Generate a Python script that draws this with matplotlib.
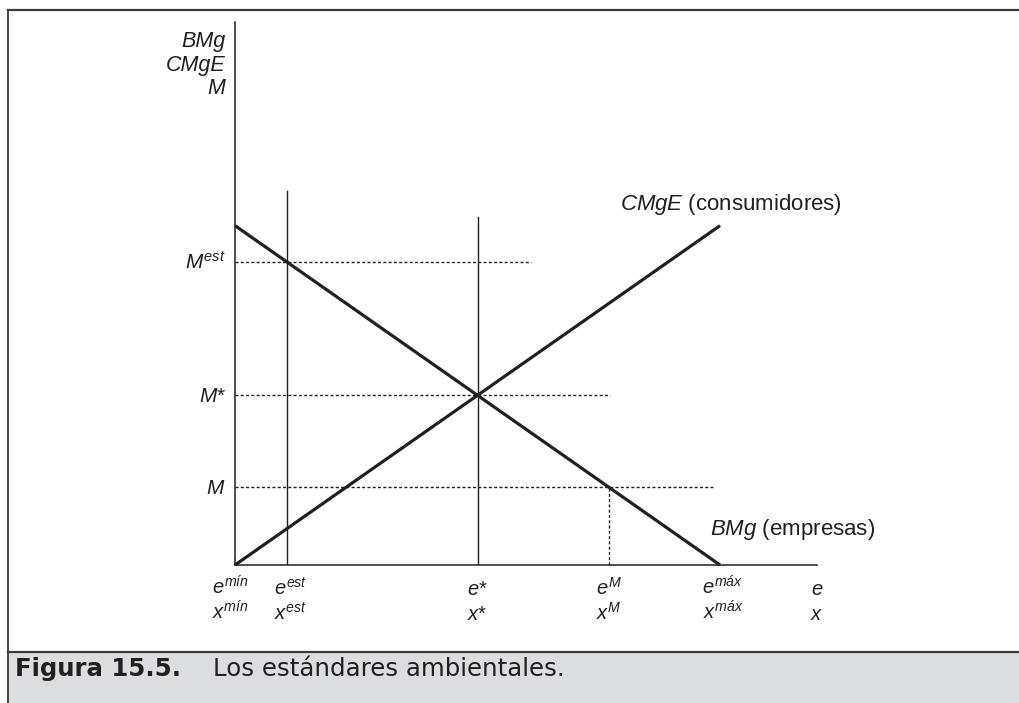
import matplotlib
matplotlib.use("Agg")
import matplotlib.pyplot as plt
from matplotlib.lines import Line2D
from matplotlib.patches import Rectangle
from matplotlib.transforms import offset_copy

plt.rcParams['font.family'] = ['Liberation Sans', 'DejaVu Sans']
plt.rcParams['mathtext.fontset'] = 'custom'
plt.rcParams['mathtext.it'] = 'Liberation Sans:italic'
plt.rcParams['mathtext.rm'] = 'Liberation Sans'
plt.rcParams['mathtext.bf'] = 'Liberation Sans:bold'

INK = '#231f20'

# Emission levels on the horizontal axis
e_min = 0.0
e_est = 1.07
e_star = 5.0
e_M = 7.71
e_max = 10.0
e_end = 12.0

# Marginal benefit of firms (falls) and marginal external cost (rises)
bmg_e = [0.0, 10.0]
bmg_v = [10.0, 0.0]
cmge_e = [0.0, 10.0]
cmge_v = [0.0, 10.0]

# Levels on the vertical axis
M_est = 8.93
M_star = 5.0
M_level = 2.29
y_top = 16.0

x_labels = [r'$e^{mín}$', r'$e^{est}$', r'$e$*', r'$e^{M}$', r'$e^{máx}$', r'$e$']
x_labels2 = [r'$x^{mín}$', r'$x^{est}$', r'$x$*', r'$x^{M}$', r'$x^{máx}$', r'$x$']
x_pos = [e_min, e_est, e_star, e_M, e_max, e_end]
x_nudge = [-5, 4, 0, 0, 3, 0]  # horizontal nudges of the labels, in pixels

W, H = 1019, 703
fig = plt.figure(figsize=(W / 100, H / 100), dpi=100)
fig.patch.set_facecolor('white')

x0, x1 = 235, 817
y0, y1 = 565, 22
ax = fig.add_axes([x0 / W, 1 - y0 / H, (x1 - x0) / W, (y0 - y1) / H])
ax.set_xlim(0, e_end)
ax.set_ylim(0, y_top)
ax.patch.set_alpha(0)
for s in ['top', 'right']:
    ax.spines[s].set_visible(False)
for s in ['left', 'bottom']:
    ax.spines[s].set_linewidth(1.1)
    ax.spines[s].set_color(INK)
ax.set_xticks([])
ax.set_yticks([])

# Demand and supply of the environmental good
ax.plot(bmg_e, bmg_v, color=INK, lw=2.3, solid_capstyle='butt', clip_on=False)
ax.plot(cmge_e, cmge_v, color=INK, lw=2.3, solid_capstyle='butt', clip_on=False)

# Vertical reference lines
ax.plot([e_est, e_est], [0, 11.03], color=INK, lw=1.0)
ax.plot([e_star, e_star], [0, 10.24], color=INK, lw=1.0)

dots = dict(color=INK, lw=1.0, linestyle=(0, (2.2, 1.6)))
ax.plot([0, 6.1], [M_est, M_est], **dots)
ax.plot([0, 7.73], [M_star, M_star], **dots)
ax.plot([0, 9.86], [M_level, M_level], **dots)
ax.plot([e_M, e_M], [0, M_level], **dots)

# Vertical axis titles
for yy, lab in zip([15.26, 14.56, 13.88], ['BMg', 'CMgE', 'M']):
    ax.text(-0.2, yy, lab, fontsize=15.5, style='italic', ha='right', va='baseline',
            color=INK, clip_on=False)

# Level labels
for yy, lab in zip([M_est, M_star, M_level], [r'$M^{est}$', r'$M$*', r'$M$']):
    ax.text(-0.19, yy - 0.2, lab, fontsize=15, ha='right', va='baseline', color=INK,
            clip_on=False)

# Emission labels
for xp, l1, l2, dx in zip(x_pos, x_labels, x_labels2, x_nudge):
    tr = offset_copy(ax.transData, fig=fig, x=dx * 0.72, y=0, units='points')
    ax.text(xp, -0.88, l1, fontsize=14.5, ha='center', va='baseline', color=INK,
            clip_on=False, transform=tr)
    ax.text(xp, -1.62, l2, fontsize=14.5, ha='center', va='baseline', color=INK,
            clip_on=False, transform=tr)

# Curve labels
ax.text(7.94, 10.46, r'$CMgE$ (consumidores)', fontsize=16, ha='left', va='baseline',
        color=INK, clip_on=False)
ax.text(9.79, 0.88, r'$BMg$ (empresas)', fontsize=16, ha='left', va='baseline',
        color=INK, clip_on=False)

# Frame and caption band
def fx(px):
    return px / W

def fy(py):
    return 1 - py / H

fig.add_artist(Rectangle((fx(8), 0), 1 - fx(8), fy(652), transform=fig.transFigure,
                         facecolor='#dcdddf', edgecolor='none'))
fig.add_artist(Line2D([fx(8), 1], [fy(652), fy(652)], transform=fig.transFigure,
                      color='#3a3a3a', lw=1.6))
fig.add_artist(Line2D([fx(8), 1], [fy(10), fy(10)], transform=fig.transFigure,
                      color='#3a3a3a', lw=1.6))
fig.add_artist(Line2D([fx(8), fx(8)], [0, fy(10)], transform=fig.transFigure,
                      color='#3a3a3a', lw=1.3))

fig.text(fx(15), fy(676), 'Figura 15.5.', fontsize=17.6, fontweight='bold', ha='left',
         va='baseline', color=INK, family='DejaVu Sans')
fig.text(fx(213), fy(676), 'Los estándares ambientales.', fontsize=17.6, ha='left',
         va='baseline', color=INK, family='DejaVu Sans')

fig.savefig('out.png', dpi=100)
